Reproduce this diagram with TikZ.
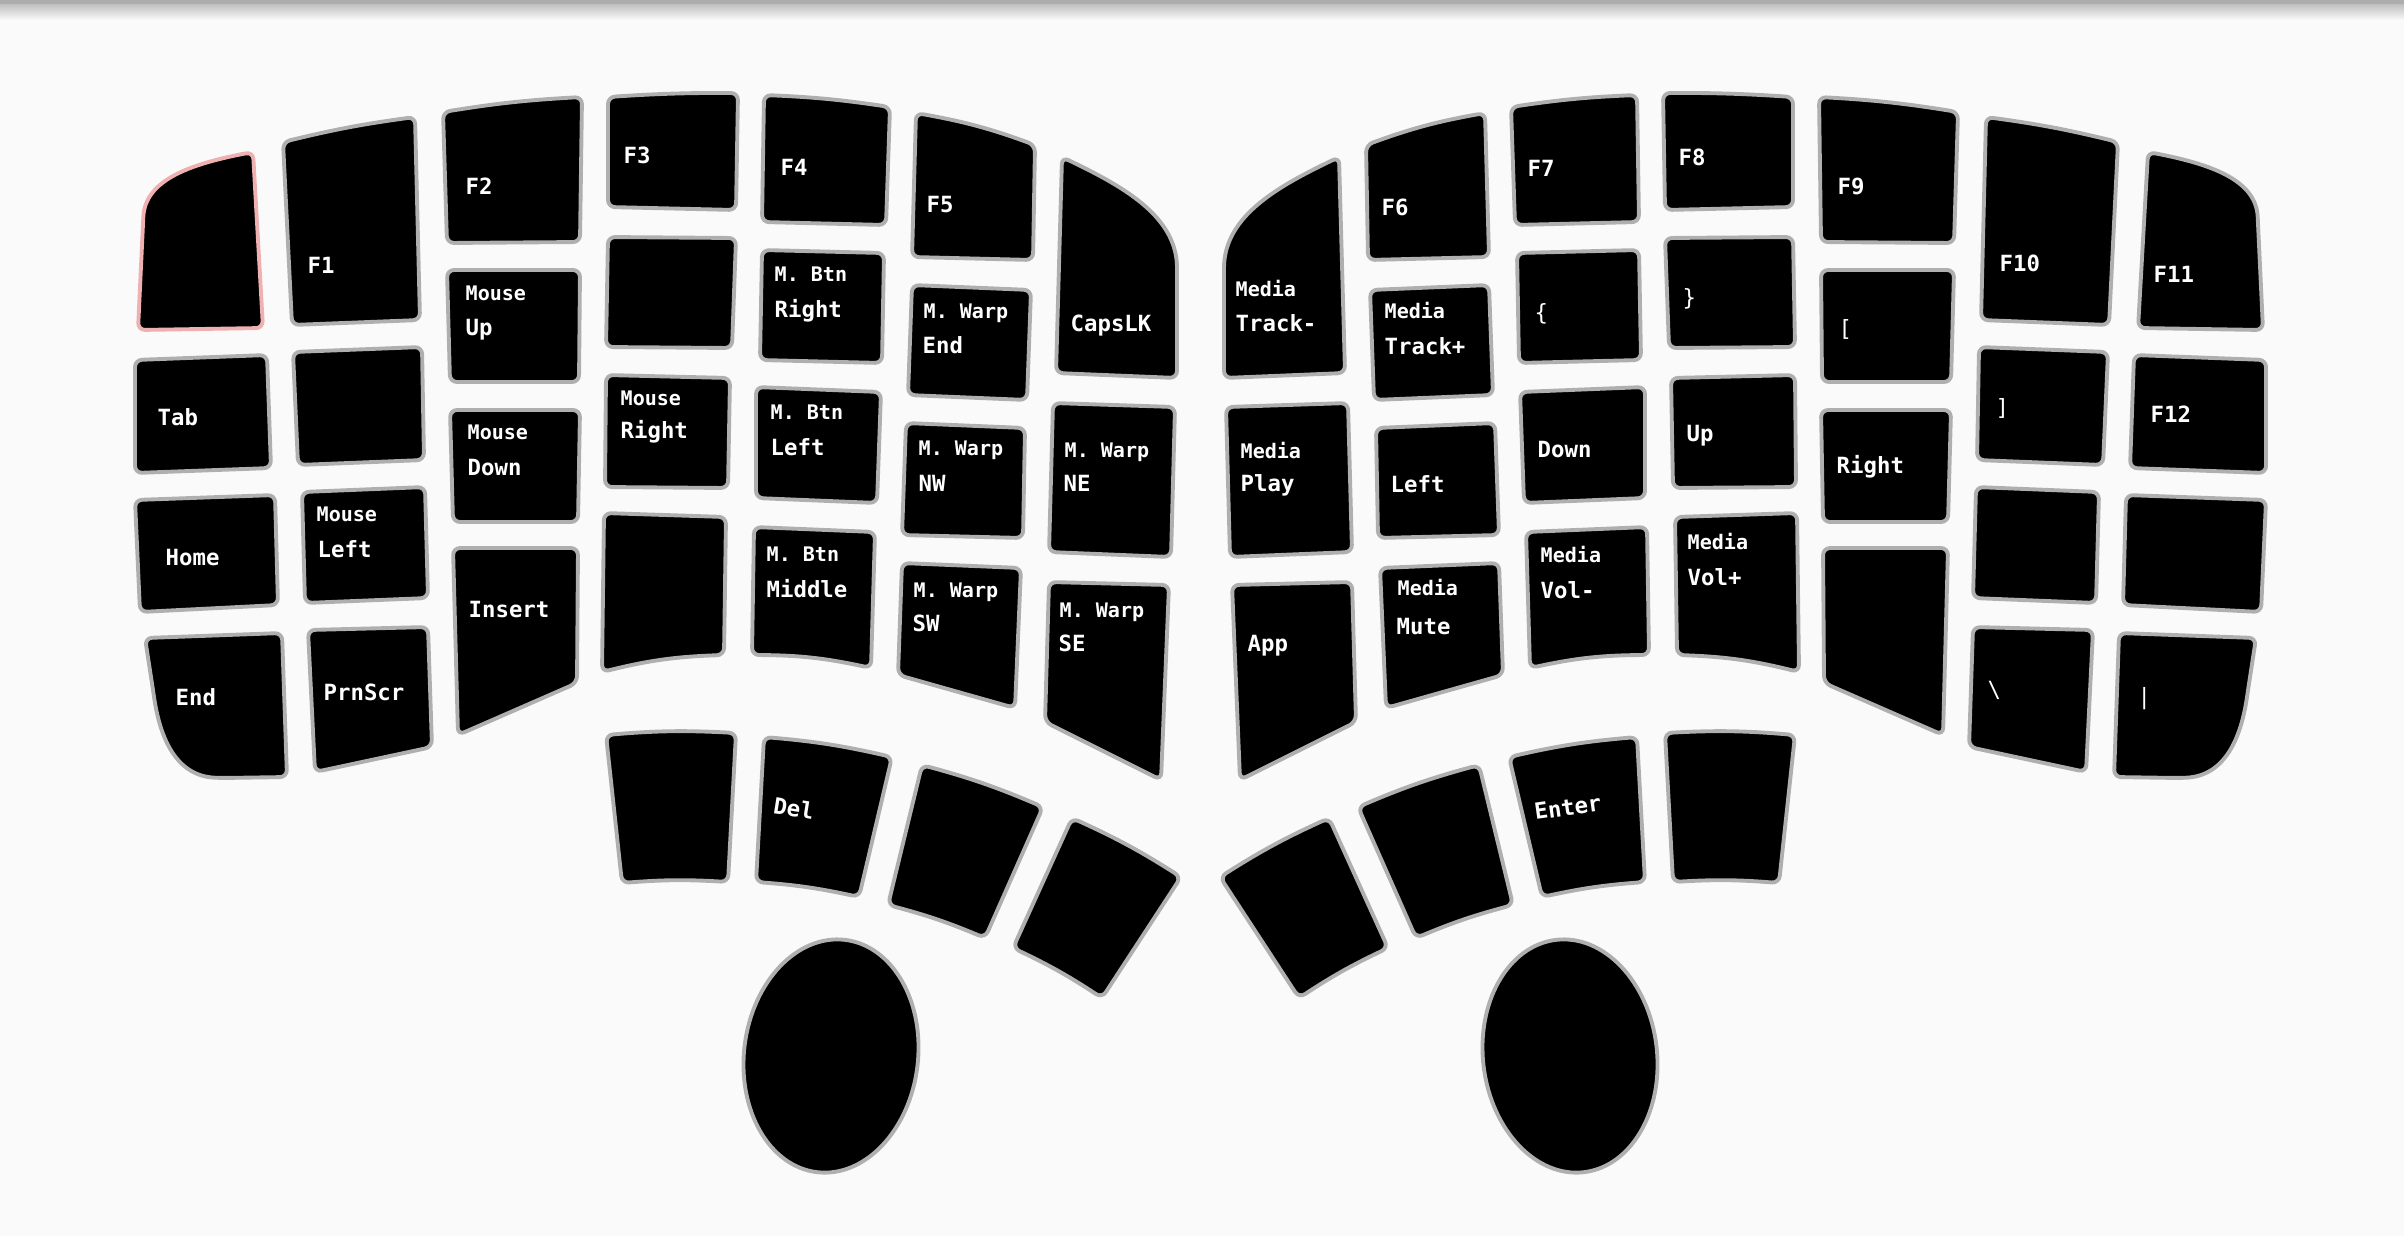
\documentclass[tikz,border=0pt]{standalone}
\usepackage{fontspec}
\setmonofont{DejaVu Sans Mono}
\usepackage{tikz}

\definecolor{pagebg}{RGB}{250, 250, 250}
\definecolor{keyrim}{RGB}{175, 175, 175}
\definecolor{keypink}{RGB}{238, 176, 176}

\newcommand{\lblfont}{\ttfamily\bfseries\fontsize{6.35}{7}\selectfont}
\newcommand{\keysubfont}{\ttfamily\bfseries\fontsize{5.7}{6}\selectfont}

% plain key and key with bent top / bottom edge
\newcommand{\keyquad}[4]{\draw[keybox] (#1) -- (#2) -- (#3) -- (#4) -- cycle;}
\newcommand{\keyarc}[6]{\draw[keybox] (#1) to[bend left=#5] (#2) -- (#3) to[bend right=#6] (#4) -- cycle;}

% one half of the board, drawn twice
\newcommand{\halfboard}[1]{%
  % outer column
  \draw[keybox, #1] (143,224) .. controls (145,180) and (190,164) .. (253,152) -- (263,328) -- (138,330) -- cycle;
  \keyquad{135,360}{267,355}{271,468}{135,473}
  \keyquad{135,500}{275,495}{278,605}{140,612}
  \draw[keybox] (145,638) -- (282,633) -- (287,777) -- (222,778) .. controls (176,776) and (160,738) .. (153,690) -- cycle;
  % second column
  \keyarc{283,142}{415,117}{420,320}{292,325}{3}{0}
  \keyquad{293,352}{422,347}{424,460}{298,465}
  \keyquad{302,492}{425,487}{428,598}{305,603}
  \keyquad{308,630}{428,627}{432,747}{315,772}
  % third column
  \keyarc{443,112}{582,97}{580,242}{447,243}{3}{0}
  \keyquad{447,270}{580,270}{579,382}{450,382}
  \keyquad{450,410}{580,410}{578,522}{453,522}
  \keyquad{453,548}{578,548}{577,683}{458,735}
  % fourth column
  \keyarc{608,97}{738,93}{736,210}{608,207}{2}{0}
  \keyquad{608,237}{736,238}{732,348}{606,347}
  \keyquad{606,375}{730,378}{728,488}{605,487}
  \keyarc{604,513}{726,517}{724,655}{602,672}{0}{6}
  % fifth column
  \keyarc{764,95}{890,107}{886,225}{762,222}{3}{0}
  \keyquad{762,250}{884,253}{882,363}{760,360}
  \keyquad{756,387}{881,392}{877,503}{756,498}
  \keyarc{754,527}{875,532}{871,668}{752,655}{0}{6}
  % sixth column
  \keyarc{916,113}{1035,145}{1033,260}{912,257}{5}{0}
  \keyquad{912,285}{1031,290}{1027,400}{908,395}
  \keyquad{906,423}{1025,428}{1023,538}{902,535}
  \keyquad{902,563}{1021,568}{1015,708}{898,675}
  % inner column
  \draw[keybox] (1062,157) .. controls (1120,185) and (1177,215) .. (1177,275) -- (1177,378) -- (1056,373) -- cycle;
  \keyquad{1053,403}{1175,407}{1171,557}{1049,552}
  \keyquad{1049,582}{1169,585}{1161,780}{1045,722}
  % thumb cluster
  \keyarc{606,735}{736,733}{728,882}{622,883}{4}{4}
  \keyarc{764,737}{892,757}{859,897}{756,882}{4}{4}
  \keyarc{922,765}{1043,807}{985,938}{888,905}{4}{4}
  \keyarc{1072,818}{1181,877}{1102,998}{1013,948}{4}{4}
  % trackball
  \draw[keybox, rotate around={-7:(831,1056)}] (831,1056) ellipse [x radius=87, y radius=117];
}

\begin{document}
\begin{tikzpicture}[
  x=0.01cm, y=-0.01cm,
  keybox/.style={draw=keyrim, fill=black, line width=1.1pt, rounded corners=2pt},
  keylbl/.style={text=white, font=\lblfont, inner sep=0pt, anchor=base west},
  keysub/.style={keylbl, font=\keysubfont},
  keysym/.style={keylbl, font=\ttfamily\fontsize{6.35}{7}\selectfont}
]
  \useasboundingbox (0,0) rectangle (2404,1236);
  \fill[pagebg] (0,0) rectangle (2404,1236);
  \fill[black!32] (0,0) rectangle (2404,4);
  \shade[top color=black!25, bottom color=pagebg] (0,4) rectangle (2404,20);

  % Keys
  \halfboard{draw=keypink}
  \begin{scope}[shift={(2401,0)}, xscale=-1]
    \halfboard{}
  \end{scope}

  % Left half labels
  \node[keylbl] (f1) at (307,273) {F1};
  \node[keylbl] (f2) at (465,194) {F2};
  \node[keylbl] (tab) at (157,425) {Tab};
  \node[keylbl] (home) at (165,565) {Home};
  \node[keylbl] (end) at (175,705) {End};
  \node[keysub] (mupt) at (465,300) {Mouse};
  \node[keylbl] (mup) at (465,335) {Up};
  \node[keysub] (mdownt) at (467,439) {Mouse};
  \node[keylbl] (mdown) at (467,475) {Down};
  \node[keysub] (mleftt) at (316,521) {Mouse};
  \node[keylbl] (mleft) at (317,557) {Left};
  \node[keylbl] (insert) at (468,617) {Insert};
  \node[keylbl] (prnscr) at (323,700) {PrnScr};
  \node[keylbl] (f3) at (623,163) {F3};
  \node[keylbl] (f4) at (780,175) {F4};
  \node[keylbl] (f5) at (926,212) {F5};
  \node[keysub] (brightt) at (774,281) {M. Btn};
  \node[keylbl] (bright) at (774,317) {Right};
  \node[keysub] (wendt) at (923,318) {M. Warp};
  \node[keylbl] (wend) at (922,353) {End};
  \node[keylbl] (capslk) at (1070,331) {CapsLK};
  \node[keysub] (mrightt) at (620,405) {Mouse};
  \node[keylbl] (mright) at (620,438) {Right};
  \node[keysub] (bleftt) at (770,419) {M. Btn};
  \node[keylbl] (bleft) at (770,455) {Left};
  \node[keysub] (wnwt) at (918,455) {M. Warp};
  \node[keylbl] (wnw) at (918,491) {NW};
  \node[keysub] (wnet) at (1064,457) {M. Warp};
  \node[keylbl] (wne) at (1063,491) {NE};
  \node[keysub] (bmidt) at (766,561) {M. Btn};
  \node[keylbl] (bmid) at (766,597) {Middle};
  \node[keysub] (wswt) at (913,597) {M. Warp};
  \node[keylbl] (wsw) at (912,631) {SW};
  \node[keysub] (wset) at (1059,617) {M. Warp};
  \node[keylbl] (wse) at (1058,651) {SE};
  \node[keylbl, rotate=-9] (del) at (772,813) {Del};

  % Right half labels
  \node[keysub] (trkmt) at (1235,296) {Media};
  \node[keylbl] (trkm) at (1235,331) {Track-};
  \node[keylbl] (f6) at (1381,215) {F6};
  \node[keylbl] (f7) at (1527,176) {F7};
  \node[keylbl] (f8) at (1678,165) {F8};
  \node[keysub] (trkpt) at (1384,318) {Media};
  \node[keylbl] (trkp) at (1384,354) {Track+};
  \node[keysym] (lbrace) at (1534,320) {\{};
  \node[keysym] (rbrace) at (1682,305) {\}};
  \node[keysub] (playt) at (1240,458) {Media};
  \node[keylbl] (play) at (1240,491) {Play};
  \node[keylbl] (aleft) at (1390,492) {Left};
  \node[keylbl] (adown) at (1537,457) {Down};
  \node[keylbl] (aup) at (1686,441) {Up};
  \node[keylbl] (app) at (1247,651) {App};
  \node[keysub] (mutet) at (1397,595) {Media};
  \node[keylbl] (mute) at (1396,634) {Mute};
  \node[keysub] (voldt) at (1540,562) {Media};
  \node[keylbl] (vold) at (1540,598) {Vol-};
  \node[keysub] (volut) at (1687,549) {Media};
  \node[keylbl] (volu) at (1687,585) {Vol+};
  \node[keylbl, rotate=8] (enter) at (1535,820) {Enter};
  \node[keylbl] (f9) at (1837,194) {F9};
  \node[keylbl] (f10) at (1999,271) {F10};
  \node[keylbl] (f11) at (2153,282) {F11};
  \node[keysym] (lbrack) at (1838,336) {[};
  \node[keysym] (rbrack) at (1995,415) {]};
  \node[keylbl] (f12) at (2150,422) {F12};
  \node[keylbl] (aright) at (1836,473) {Right};
  \node[keysym] (bslash) at (1987,697) {\textbackslash};
  \node[keysym] (pipe) at (2137,704) {|};
\end{tikzpicture}
\end{document}
